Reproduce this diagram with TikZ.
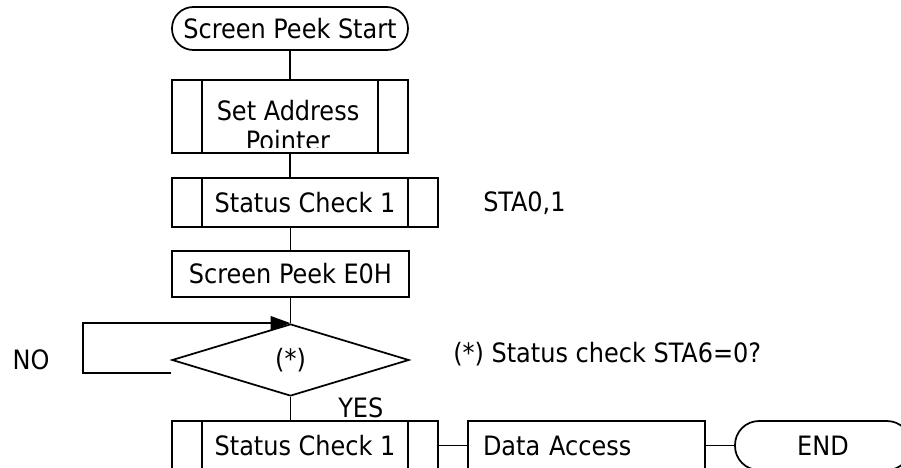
\documentclass[tikz,border=0pt]{standalone}
\usepackage{fontspec}
\setmainfont{DejaVu Sans Condensed}
\usetikzlibrary{shapes.geometric,arrows.meta}

\tikzset{
  flowline/.style={line width=1.3pt},
  term/.style={draw,line width=1.3pt,rounded corners=#1,inner sep=0pt},
  procbox/.style={draw,line width=1.3pt,inner sep=0pt},
  subproc/.style={procbox,path picture={
    \draw[line width=1.3pt] ([xshift=22.5pt]path picture bounding box.north west) -- ([xshift=22.5pt]path picture bounding box.south west);
    \draw[line width=1.3pt] ([xshift=-22.5pt]path picture bounding box.north east) -- ([xshift=-22.5pt]path picture bounding box.south east);}},
}

\begin{document}
\begin{tikzpicture}[x=0.75pt,y=0.75pt,yscale=-1,xscale=1,font=\fontsize{20}{22.5}\selectfont]
\clip (0,0) rectangle (901,468);

% Terminal
\node [term=16pt,minimum width=177pt,minimum height=32.25pt] (start) at (290,28.5) {Screen Peek Start};
% Subroutine
\node [subproc,minimum width=177pt,minimum height=54.75pt] (setptr) at (290,116.5) {};
\begin{scope}
\clip (setptr.north west) rectangle ([yshift=-4.5pt]setptr.south east);
\node [align=center,inner sep=0pt] (setptrtext) at (288,126) {Set Address\\Pointer};
\end{scope}
% Subroutine
\node [subproc,minimum width=199.5pt,minimum height=36.75pt] (chk1) at (305,202.5) {Status Check 1};
% Process
\node [procbox,minimum width=177.75pt,minimum height=34.5pt] (peek) at (290.5,274) {Screen Peek E0H};
% Decision
\node [draw,diamond,aspect=3.29,minimum width=177.75pt,minimum height=54pt,inner sep=0pt,line width=1.3pt] (wait) at (290.5,360) {\raisebox{3pt}{(*)}};
% Subroutine
\node [subproc,minimum width=199.5pt,minimum height=36.75pt] (chk2) at (305,445.5) {Status Check 1};
% Process
\node [procbox,minimum width=177.75pt,minimum height=36.75pt,text width=155.25pt,align=left,inner xsep=11.25pt] (access) at (586.5,445.5) {Data Access};
% Terminal
\node [term=18pt,minimum width=132pt,minimum height=36.75pt] (done) at (823,445.5) {END};

% Text Node
\node [anchor=west,inner sep=0pt] (sta) at (483,203) {STA0,1};
% Text Node
\node [inner sep=0pt] (nolabel) at (31,360) {NO};
% Text Node
\node [anchor=west,inner sep=0pt] (note) at (453,354) {(*) Status check STA6=0?};
% Text Node
\node [anchor=west,inner sep=0pt] (yeslabel) at (338,408) {YES};

% Connectors
\draw [flowline] (start.south) -- (setptr.north);
\draw [flowline] (setptr.south) -- (setptr.south |- chk1.north);
\draw [flowline] (peek.north |- chk1.south) -- (peek.north);
\draw [flowline] (peek.south) -- (wait.north);
\draw [flowline] (wait.south) -- (wait.south |- chk2.north);
\draw [flowline] (chk2.east) -- (access.west);
\draw [flowline] (access.east) -- (done.west);
\draw [flowline,-{Triangle[length=15pt,width=10.5pt]}] ([yshift=9.75pt]wait.west) -- ++(-88,0) |- (wait.north);

\end{tikzpicture}
\end{document}
